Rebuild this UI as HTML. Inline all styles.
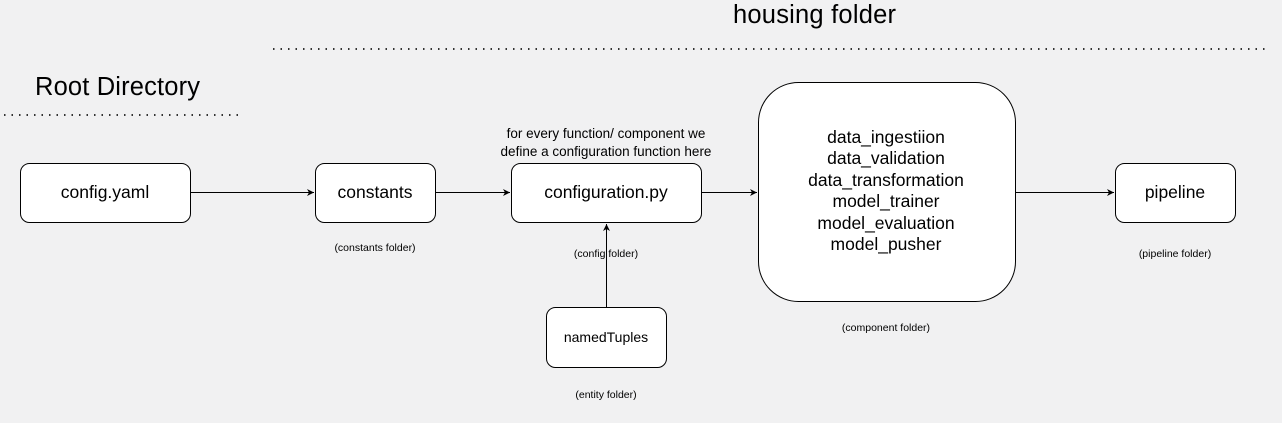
<!DOCTYPE html>
<html><head><style>body{margin:0;background:#f1f1f2}svg{display:block}text{font-family:"Liberation Sans",Arial,sans-serif;fill:#000}</style></head><body>
<svg width="1282" height="423" viewBox="0 0 1282 423" xmlns="http://www.w3.org/2000/svg">
<rect width="1282" height="423" fill="#f1f1f2"/>
<defs><marker id="a" markerWidth="8" markerHeight="8" refX="7" refY="4" orient="auto" markerUnits="userSpaceOnUse"><path d="M0,0.5 L7,4 L0,7.5 L2,4 Z" fill="#000"/></marker></defs>
<text x="733" y="23" font-size="25.5" textLength="163">housing folder</text>
<line x1="273" y1="49" x2="1268" y2="49" stroke="#333" stroke-width="2" stroke-dasharray="1.5 6"/>
<text x="35" y="95" font-size="25.5" textLength="165">Root Directory</text>
<line x1="4" y1="115" x2="240" y2="115" stroke="#333" stroke-width="2" stroke-dasharray="1.5 6"/>
<g fill="#fff" stroke="#000" stroke-width="1">
<rect x="20.5" y="163.5" width="170" height="59" rx="9"/>
<rect x="315.5" y="163.5" width="120" height="59" rx="9"/>
<rect x="511.5" y="163.5" width="190" height="59" rx="9"/>
<rect x="546.5" y="307.5" width="120" height="60" rx="9"/>
<rect x="758.5" y="82.5" width="257" height="219" rx="40"/>
<rect x="1115.5" y="163.5" width="120" height="59" rx="9"/>
</g>
<g stroke="#000" stroke-width="1" marker-end="url(#a)">
<line x1="191" y1="192.5" x2="314" y2="192.5"/>
<line x1="436" y1="192.5" x2="510" y2="192.5"/>
<line x1="702" y1="192.5" x2="757" y2="192.5"/>
<line x1="1016" y1="192.5" x2="1114" y2="192.5"/>
<line x1="606.5" y1="307" x2="606.5" y2="224"/>
</g>
<g text-anchor="middle">
<text x="105" y="198" font-size="17.5">config.yaml</text>
<text x="375" y="198" font-size="17.5">constants</text>
<text x="606" y="198" font-size="17.5">configuration.py</text>
<text x="606" y="342" font-size="14">namedTuples</text>
<text x="1175" y="198" font-size="17.5">pipeline</text>
<text x="606" y="138" font-size="13.5">for every function/ component we</text>
<text x="606" y="156" font-size="13.5">define a configuration function here</text>
<g font-size="17.5">
<text x="886" y="143">data_ingestiion</text>
<text x="886" y="164">data_validation</text>
<text x="886" y="186">data_transformation</text>
<text x="886" y="207">model_trainer</text>
<text x="886" y="229">model_evaluation</text>
<text x="886" y="250">model_pusher</text>
</g>
<g font-size="10.5">
<text x="375" y="251">(constants folder)</text>
<text x="606" y="257">(config folder)</text>
<text x="606" y="398">(entity folder)</text>
<text x="886" y="331">(component folder)</text>
<text x="1175" y="257">(pipeline folder)</text>
</g>
</g>
</svg>
</body></html>
